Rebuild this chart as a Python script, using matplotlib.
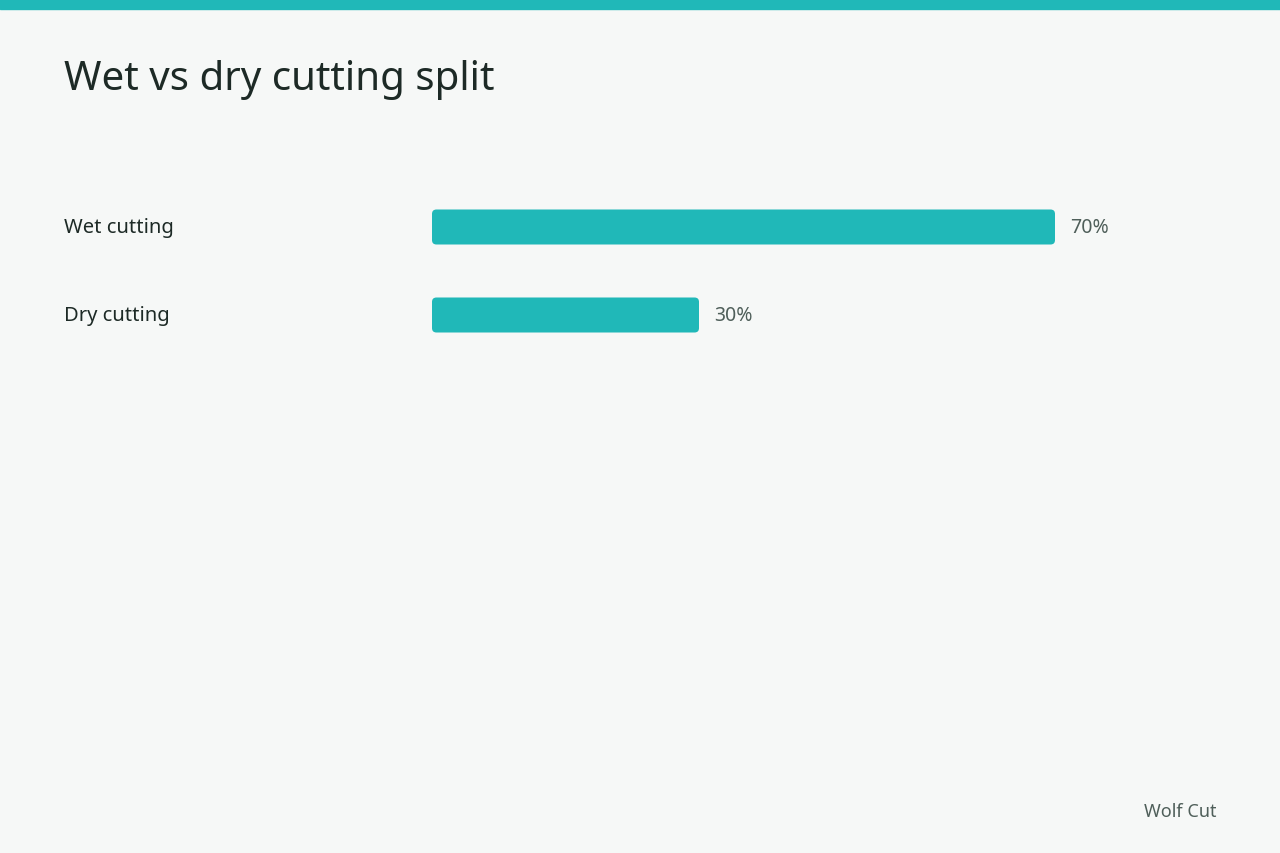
import matplotlib
matplotlib.use("Agg")
import matplotlib.pyplot as plt
from matplotlib.patches import FancyBboxPatch, Rectangle

categories = ["Wet cutting", "Dry cutting"]
values = [70, 30]
value_labels = ["70%", "30%"]
title = "Wet vs dry cutting split"
footer = "Wolf Cut"

W, H = 1280, 854
plt.rcParams['font.family'] = ['Noto Sans', 'DejaVu Sans']
fig = plt.figure(figsize=(W/100, H/100), dpi=100)
fig.patch.set_facecolor("#f6f8f7")
teal = "#20b8b8"
fig.patches.append(Rectangle((0, 1-10/H), 1, 10/H, transform=fig.transFigure, color=teal, zorder=5))

fig.text(64/W, 1-80/H, title, fontsize=29, color="#1d2a26", va="center", ha="left")
fig.text(1216/W, 1-812/H, footer, fontsize=13, color="#4f5f5a", va="center", ha="right")

ax_left, ax_right, ax_top, ax_bot = 432, 1216, 150, 400
ax = fig.add_axes([ax_left/W, 1-ax_bot/H, (ax_right-ax_left)/W, (ax_bot-ax_top)/H])
ax.set_facecolor("none")
pxx = 8.9
xmax = (ax_right-ax_left)/pxx
pxy = 88
ytop = -(228-ax_top)/pxy
ybot = ytop + (ax_bot-ax_top)/pxy
ax.set_xlim(0, xmax)
ax.set_ylim(ybot, ytop)
ax.axis("off")

bh = 35/pxy
for i, (c, v, lab) in enumerate(zip(categories, values, value_labels)):
    p = FancyBboxPatch((0, i-bh/2), v, bh, boxstyle="round,pad=0,rounding_size=0.5",
                       mutation_aspect=pxx/pxy, facecolor=teal, edgecolor="none")
    ax.add_patch(p)
    ax.text(v + 15/pxx, i, lab, va="center", ha="left", fontsize=14, color="#4f5f5a")
    ax.text(-(ax_left-64)/pxx, i, c, va="center", ha="left", fontsize=14.5, color="#1d2a26", clip_on=False)

fig.savefig("out.png", dpi=100, facecolor=fig.get_facecolor())
